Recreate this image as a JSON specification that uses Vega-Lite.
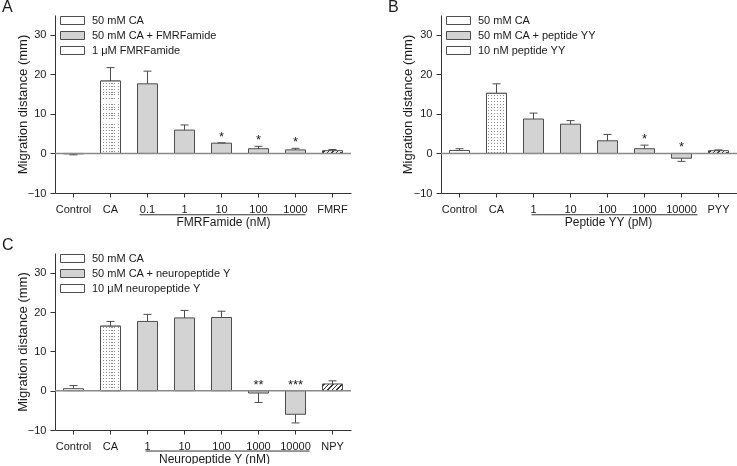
{
"$schema": "https://vega.github.io/schema/vega-lite/v6.json",
"autosize": {"type": "pad"},
"padding": {"left": 2, "top": -2, "right": 0, "bottom": 0},
"background": "white",
"config": {
  "font": "Liberation Sans",
  "view": {"stroke": null},
  "axis": {"grid": false, "domainColor": "#333333", "tickColor": "#333333", "labelColor": "#1a1a1a", "titleColor": "#1a1a1a", "labelFontSize": 11, "titleFontWeight": "normal", "labelFont": "Liberation Sans", "titleFont": "Liberation Sans"},
  "legend": {"labelFont": "Liberation Sans", "labelFontSize": 11, "labelColor": "#1a1a1a"},
  "title": {"font": "Liberation Sans", "fontWeight": "normal", "fontSize": 16, "color": "#1a1a1a", "anchor": "start", "frame": "group", "dx": -53, "offset": 0.5, "baseline": "alphabetic"}
},
"bounds": "flush",
"columns": 2,
"spacing": {"row": 60, "column": 90},
"resolve": {"scale": {"fill": "independent", "x": "independent", "y": "independent"}, "legend": {"fill": "independent"}},
"concat": [
{
 "width": 296, "height": 178,
 "title": {"text": "A"},
 "data": {"values": [
  {"cat":"Control","group":"Control","mean":-0.1,"err":-0.35,"sig":""},
  {"cat":"CA","group":"50 mM CA","mean":18.3,"err":21.7,"sig":""},
  {"cat":"0.1","group":"50 mM CA + FMRFamide","mean":17.6,"err":20.8,"sig":""},
  {"cat":"1","group":"50 mM CA + FMRFamide","mean":5.9,"err":7.2,"sig":""},
  {"cat":"10","group":"50 mM CA + FMRFamide","mean":2.6,"err":2.7,"sig":"*"},
  {"cat":"100","group":"50 mM CA + FMRFamide","mean":1.2,"err":1.8,"sig":"*"},
  {"cat":"1000","group":"50 mM CA + FMRFamide","mean":0.9,"err":1.3,"sig":"*"},
  {"cat":"FMRF","group":"1 μM FMRFamide","mean":0.7,"err":1.0,"sig":""}
 ]},
 "layer": [
  {"mark": {"type": "bar", "width": 20, "stroke": "#4d4d4d", "strokeWidth": 1, "opacity": 1},
   "encoding": {
    "x": {"field": "cat", "type": "nominal", "title": "FMRFamide (nM)", "scale": {"domain": ["Control","CA","0.1","1","10","100","1000","FMRF"], "paddingInner": 0, "paddingOuter": 0}, "axis": {"titleX": 168, "titleY": 32, "titleBaseline": "alphabetic", "titleAlign": "center", "titleFontSize": 12, "labelAngle": 0, "tickSize": 4, "labelPadding": 6}},
    "y": {"field": "mean", "type": "quantitative", "title": "Migration distance (mm)", "scale": {"domain": [-10, 35], "nice": false, "zero": false}, "axis": {"values": [-10,0,10,20,30], "tickSize": 5, "labelPadding": 4, "titlePadding": -2, "titleFontSize": 13}},
    "y2": {"datum": 0},
    "fill": {"field": "group", "type": "nominal",
      "scale": {"domain": ["Control","50 mM CA","50 mM CA + FMRFamide","1 μM FMRFamide"], "range": ["white","white","#d3d3d3","white"]},
      "condition": [
       {"test": "datum.group === '50 mM CA'", "value": {"gradient":"linear","x1":0,"y1":0,"x2":1,"y2":0,"stops":[{"offset":0,"color":"white"},{"offset":0.1,"color":"white"},{"offset":0.1,"color":"#8c8c8c"},{"offset":0.15,"color":"#8c8c8c"},{"offset":0.15,"color":"white"},{"offset":0.25,"color":"white"},{"offset":0.25,"color":"#8c8c8c"},{"offset":0.3,"color":"#8c8c8c"},{"offset":0.3,"color":"white"},{"offset":0.4,"color":"white"},{"offset":0.4,"color":"#8c8c8c"},{"offset":0.45,"color":"#8c8c8c"},{"offset":0.45,"color":"white"},{"offset":0.55,"color":"white"},{"offset":0.55,"color":"#8c8c8c"},{"offset":0.6,"color":"#8c8c8c"},{"offset":0.6,"color":"white"},{"offset":0.7,"color":"white"},{"offset":0.7,"color":"#8c8c8c"},{"offset":0.75,"color":"#8c8c8c"},{"offset":0.75,"color":"white"},{"offset":0.85,"color":"white"},{"offset":0.85,"color":"#8c8c8c"},{"offset":0.9,"color":"#8c8c8c"},{"offset":0.9,"color":"white"},{"offset":1,"color":"white"}]}},
       {"test": "datum.group === '1 μM FMRFamide'", "value": {"gradient":"linear","x1":0,"y1":0,"x2":1.118,"y2":0.157,"stops":[{"offset":0,"color":"white"},{"offset":0.07,"color":"white"},{"offset":0.07,"color":"#333"},{"offset":0.13,"color":"#333"},{"offset":0.13,"color":"white"},{"offset":0.27,"color":"white"},{"offset":0.27,"color":"#333"},{"offset":0.33,"color":"#333"},{"offset":0.33,"color":"white"},{"offset":0.47,"color":"white"},{"offset":0.47,"color":"#333"},{"offset":0.53,"color":"#333"},{"offset":0.53,"color":"white"},{"offset":0.67,"color":"white"},{"offset":0.67,"color":"#333"},{"offset":0.73,"color":"#333"},{"offset":0.73,"color":"white"},{"offset":0.87,"color":"white"},{"offset":0.87,"color":"#333"},{"offset":0.93,"color":"#333"},{"offset":0.93,"color":"white"},{"offset":1,"color":"white"}]}}
      ],
      "legend": {"values": ["50 mM CA","50 mM CA + FMRFamide","1 μM FMRFamide"], "title": null, "orient": "none", "legendX": 12, "legendY": 0, "padding": 0, "symbolSize": 16, "symbolType": "M-6,-2H6V2H-6Z", "symbolStrokeColor": "#4d4d4d", "symbolStrokeWidth": 1, "labelOffset": 14, "rowPadding": 2}
    }
   }},
  {"transform": [{"filter": "datum.group === '50 mM CA'"}],
   "mark": {"type": "bar", "width": 20, "blend": "lighten", "strokeWidth": 0, "opacity": 1,
     "fill": {"gradient":"linear","x1":0,"y1":0,"x2":0,"y2":1,"stops":[{"offset":0,"color":"white"},
{"offset":0.0200,"color":"white"},{"offset":0.0200,"color":"#8c8c8c"},{"offset":0.0338,"color":"#8c8c8c"},{"offset":0.0338,"color":"white"},
{"offset":0.0614,"color":"white"},{"offset":0.0614,"color":"#8c8c8c"},{"offset":0.0752,"color":"#8c8c8c"},{"offset":0.0752,"color":"white"},
{"offset":0.1029,"color":"white"},{"offset":0.1029,"color":"#8c8c8c"},{"offset":0.1167,"color":"#8c8c8c"},{"offset":0.1167,"color":"white"},
{"offset":0.1443,"color":"white"},{"offset":0.1443,"color":"#8c8c8c"},{"offset":0.1581,"color":"#8c8c8c"},{"offset":0.1581,"color":"white"},
{"offset":0.1857,"color":"white"},{"offset":0.1857,"color":"#8c8c8c"},{"offset":0.1995,"color":"#8c8c8c"},{"offset":0.1995,"color":"white"},
{"offset":0.2272,"color":"white"},{"offset":0.2272,"color":"#8c8c8c"},{"offset":0.2410,"color":"#8c8c8c"},{"offset":0.2410,"color":"white"},
{"offset":0.2686,"color":"white"},{"offset":0.2686,"color":"#8c8c8c"},{"offset":0.2824,"color":"#8c8c8c"},{"offset":0.2824,"color":"white"},
{"offset":0.3101,"color":"white"},{"offset":0.3101,"color":"#8c8c8c"},{"offset":0.3239,"color":"#8c8c8c"},{"offset":0.3239,"color":"white"},
{"offset":0.3515,"color":"white"},{"offset":0.3515,"color":"#8c8c8c"},{"offset":0.3653,"color":"#8c8c8c"},{"offset":0.3653,"color":"white"},
{"offset":0.3929,"color":"white"},{"offset":0.3929,"color":"#8c8c8c"},{"offset":0.4067,"color":"#8c8c8c"},{"offset":0.4067,"color":"white"},
{"offset":0.4344,"color":"white"},{"offset":0.4344,"color":"#8c8c8c"},{"offset":0.4482,"color":"#8c8c8c"},{"offset":0.4482,"color":"white"},
{"offset":0.4758,"color":"white"},{"offset":0.4758,"color":"#8c8c8c"},{"offset":0.4896,"color":"#8c8c8c"},{"offset":0.4896,"color":"white"},
{"offset":0.5172,"color":"white"},{"offset":0.5172,"color":"#8c8c8c"},{"offset":0.5310,"color":"#8c8c8c"},{"offset":0.5310,"color":"white"},
{"offset":0.5587,"color":"white"},{"offset":0.5587,"color":"#8c8c8c"},{"offset":0.5725,"color":"#8c8c8c"},{"offset":0.5725,"color":"white"},
{"offset":0.6001,"color":"white"},{"offset":0.6001,"color":"#8c8c8c"},{"offset":0.6139,"color":"#8c8c8c"},{"offset":0.6139,"color":"white"},
{"offset":0.6415,"color":"white"},{"offset":0.6415,"color":"#8c8c8c"},{"offset":0.6553,"color":"#8c8c8c"},{"offset":0.6553,"color":"white"},
{"offset":0.6830,"color":"white"},{"offset":0.6830,"color":"#8c8c8c"},{"offset":0.6968,"color":"#8c8c8c"},{"offset":0.6968,"color":"white"},
{"offset":0.7244,"color":"white"},{"offset":0.7244,"color":"#8c8c8c"},{"offset":0.7382,"color":"#8c8c8c"},{"offset":0.7382,"color":"white"},
{"offset":0.7658,"color":"white"},{"offset":0.7658,"color":"#8c8c8c"},{"offset":0.7796,"color":"#8c8c8c"},{"offset":0.7796,"color":"white"},
{"offset":0.8073,"color":"white"},{"offset":0.8073,"color":"#8c8c8c"},{"offset":0.8211,"color":"#8c8c8c"},{"offset":0.8211,"color":"white"},
{"offset":0.8487,"color":"white"},{"offset":0.8487,"color":"#8c8c8c"},{"offset":0.8625,"color":"#8c8c8c"},{"offset":0.8625,"color":"white"},
{"offset":0.8901,"color":"white"},{"offset":0.8901,"color":"#8c8c8c"},{"offset":0.9039,"color":"#8c8c8c"},{"offset":0.9039,"color":"white"},
{"offset":0.9316,"color":"white"},{"offset":0.9316,"color":"#8c8c8c"},{"offset":0.9454,"color":"#8c8c8c"},{"offset":0.9454,"color":"white"},
{"offset":0.9730,"color":"white"},{"offset":0.9730,"color":"#8c8c8c"},{"offset":0.9868,"color":"#8c8c8c"},{"offset":0.9868,"color":"white"},
{"offset":1,"color":"white"}]}},
   "encoding": {
    "x": {"field": "cat", "type": "nominal", "title": "FMRFamide (nM)"},
    "y": {"field": "mean", "type": "quantitative", "title": "Migration distance (mm)"},
    "y2": {"datum": 0}
   }},
  {"transform": [{"filter": "datum.group === '50 mM CA'"}],
   "mark": {"type": "bar", "width": 20, "fillOpacity": 0, "stroke": "#4d4d4d", "strokeWidth": 1},
   "encoding": {
    "x": {"field": "cat", "type": "nominal", "title": "FMRFamide (nM)"},
    "y": {"field": "mean", "type": "quantitative", "title": "Migration distance (mm)"},
    "y2": {"datum": 0}
   }},
  {"mark": {"type": "rule", "color": "#4d4d4d", "strokeWidth": 1},
   "encoding": {
    "x": {"field": "cat", "type": "nominal", "title": "FMRFamide (nM)"},
    "y": {"field": "mean", "type": "quantitative", "title": "Migration distance (mm)"},
    "y2": {"field": "err"}
   }},
  {"mark": {"type": "tick", "color": "#4d4d4d", "size": 8, "thickness": 1, "opacity": 1},
   "encoding": {
    "x": {"field": "cat", "type": "nominal", "title": "FMRFamide (nM)"},
    "y": {"field": "err", "type": "quantitative", "title": "Migration distance (mm)"}
   }},
  {"data": {"values": [{}]},
   "mark": {"type": "rule", "color": "#8a8a8a", "strokeWidth": 1.5},
   "encoding": {"y": {"datum": 0}}},
  {"data": {"values": [{}]},
   "mark": {"type": "rule", "color": "#333333", "strokeWidth": 1, "xOffset": -8, "x2Offset": 10, "clip": false},
   "encoding": {
    "x": {"datum": "0.1", "type": "nominal", "title": "FMRFamide (nM)"},
    "x2": {"datum": "1000"},
    "y": {"datum": -15.5}
   }},
  {"transform": [{"filter": "datum.sig !== ''"}, {"calculate": "max(datum.err, datum.mean, 0)", "as": "starY"}],
   "mark": {"type": "text", "fontSize": 13, "baseline": "alphabetic", "dy": -2, "color": "#1a1a1a"},
   "encoding": {
    "x": {"field": "cat", "type": "nominal", "title": "FMRFamide (nM)"},
    "y": {"field": "starY", "type": "quantitative", "title": "Migration distance (mm)"},
    "text": {"field": "sig"}
   }}
 ]
},
{
 "width": 296, "height": 178,
 "title": {"text": "B"},
 "data": {"values": [
  {"cat":"Control","group":"Control","mean":0.75,"err":1.2,"sig":""},
  {"cat":"CA","group":"50 mM CA","mean":15.2,"err":17.6,"sig":""},
  {"cat":"1","group":"50 mM CA + peptide YY","mean":8.7,"err":10.2,"sig":""},
  {"cat":"10","group":"50 mM CA + peptide YY","mean":7.4,"err":8.3,"sig":""},
  {"cat":"100","group":"50 mM CA + peptide YY","mean":3.2,"err":4.8,"sig":""},
  {"cat":"1000","group":"50 mM CA + peptide YY","mean":1.2,"err":2.1,"sig":"*"},
  {"cat":"10000","group":"50 mM CA + peptide YY","mean":-1.2,"err":-2.0,"sig":"*"},
  {"cat":"PYY","group":"10 nM peptide YY","mean":0.7,"err":0.9,"sig":""}
 ]},
 "layer": [
  {"mark": {"type": "bar", "width": 20, "stroke": "#4d4d4d", "strokeWidth": 1, "opacity": 1},
   "encoding": {
    "x": {"field": "cat", "type": "nominal", "title": "Peptide YY (pM)", "scale": {"domain": ["Control","CA","1","10","100","1000","10000","PYY"], "paddingInner": 0, "paddingOuter": 0}, "axis": {"titleX": 167, "titleY": 32, "titleBaseline": "alphabetic", "titleAlign": "center", "titleFontSize": 12, "labelAngle": 0, "tickSize": 4, "labelPadding": 6}},
    "y": {"field": "mean", "type": "quantitative", "title": "Migration distance (mm)", "scale": {"domain": [-10, 35], "nice": false, "zero": false}, "axis": {"values": [-10,0,10,20,30], "tickSize": 5, "labelPadding": 4, "titlePadding": -1, "titleFontSize": 13}},
    "y2": {"datum": 0},
    "fill": {"field": "group", "type": "nominal",
      "scale": {"domain": ["Control","50 mM CA","50 mM CA + peptide YY","10 nM peptide YY"], "range": ["white","white","#d3d3d3","white"]},
      "condition": [
       {"test": "datum.group === '50 mM CA'", "value": {"gradient":"linear","x1":0,"y1":0,"x2":1,"y2":0,"stops":[{"offset":0,"color":"white"},{"offset":0.1,"color":"white"},{"offset":0.1,"color":"#8c8c8c"},{"offset":0.15,"color":"#8c8c8c"},{"offset":0.15,"color":"white"},{"offset":0.25,"color":"white"},{"offset":0.25,"color":"#8c8c8c"},{"offset":0.3,"color":"#8c8c8c"},{"offset":0.3,"color":"white"},{"offset":0.4,"color":"white"},{"offset":0.4,"color":"#8c8c8c"},{"offset":0.45,"color":"#8c8c8c"},{"offset":0.45,"color":"white"},{"offset":0.55,"color":"white"},{"offset":0.55,"color":"#8c8c8c"},{"offset":0.6,"color":"#8c8c8c"},{"offset":0.6,"color":"white"},{"offset":0.7,"color":"white"},{"offset":0.7,"color":"#8c8c8c"},{"offset":0.75,"color":"#8c8c8c"},{"offset":0.75,"color":"white"},{"offset":0.85,"color":"white"},{"offset":0.85,"color":"#8c8c8c"},{"offset":0.9,"color":"#8c8c8c"},{"offset":0.9,"color":"white"},{"offset":1,"color":"white"}]}},
       {"test": "datum.group === '10 nM peptide YY'", "value": {"gradient":"linear","x1":0,"y1":0,"x2":1.118,"y2":0.157,"stops":[{"offset":0,"color":"white"},{"offset":0.07,"color":"white"},{"offset":0.07,"color":"#333"},{"offset":0.13,"color":"#333"},{"offset":0.13,"color":"white"},{"offset":0.27,"color":"white"},{"offset":0.27,"color":"#333"},{"offset":0.33,"color":"#333"},{"offset":0.33,"color":"white"},{"offset":0.47,"color":"white"},{"offset":0.47,"color":"#333"},{"offset":0.53,"color":"#333"},{"offset":0.53,"color":"white"},{"offset":0.67,"color":"white"},{"offset":0.67,"color":"#333"},{"offset":0.73,"color":"#333"},{"offset":0.73,"color":"white"},{"offset":0.87,"color":"white"},{"offset":0.87,"color":"#333"},{"offset":0.93,"color":"#333"},{"offset":0.93,"color":"white"},{"offset":1,"color":"white"}]}}
      ],
      "legend": {"values": ["50 mM CA","50 mM CA + peptide YY","10 nM peptide YY"], "title": null, "orient": "none", "legendX": 12, "legendY": 0, "padding": 0, "symbolSize": 16, "symbolType": "M-6,-2H6V2H-6Z", "symbolStrokeColor": "#4d4d4d", "symbolStrokeWidth": 1, "labelOffset": 14, "rowPadding": 2}
    }
   }},
  {"transform": [{"filter": "datum.group === '50 mM CA'"}],
   "mark": {"type": "bar", "width": 20, "blend": "lighten", "strokeWidth": 0, "opacity": 1,
     "fill": {"gradient":"linear","x1":0,"y1":0,"x2":0,"y2":1,"stops":[{"offset":0,"color":"white"},
{"offset":0.0200,"color":"white"},{"offset":0.0200,"color":"#8c8c8c"},{"offset":0.0366,"color":"#8c8c8c"},{"offset":0.0366,"color":"white"},
{"offset":0.0699,"color":"white"},{"offset":0.0699,"color":"#8c8c8c"},{"offset":0.0865,"color":"#8c8c8c"},{"offset":0.0865,"color":"white"},
{"offset":0.1198,"color":"white"},{"offset":0.1198,"color":"#8c8c8c"},{"offset":0.1364,"color":"#8c8c8c"},{"offset":0.1364,"color":"white"},
{"offset":0.1697,"color":"white"},{"offset":0.1697,"color":"#8c8c8c"},{"offset":0.1863,"color":"#8c8c8c"},{"offset":0.1863,"color":"white"},
{"offset":0.2196,"color":"white"},{"offset":0.2196,"color":"#8c8c8c"},{"offset":0.2362,"color":"#8c8c8c"},{"offset":0.2362,"color":"white"},
{"offset":0.2695,"color":"white"},{"offset":0.2695,"color":"#8c8c8c"},{"offset":0.2861,"color":"#8c8c8c"},{"offset":0.2861,"color":"white"},
{"offset":0.3194,"color":"white"},{"offset":0.3194,"color":"#8c8c8c"},{"offset":0.3360,"color":"#8c8c8c"},{"offset":0.3360,"color":"white"},
{"offset":0.3693,"color":"white"},{"offset":0.3693,"color":"#8c8c8c"},{"offset":0.3859,"color":"#8c8c8c"},{"offset":0.3859,"color":"white"},
{"offset":0.4192,"color":"white"},{"offset":0.4192,"color":"#8c8c8c"},{"offset":0.4358,"color":"#8c8c8c"},{"offset":0.4358,"color":"white"},
{"offset":0.4691,"color":"white"},{"offset":0.4691,"color":"#8c8c8c"},{"offset":0.4857,"color":"#8c8c8c"},{"offset":0.4857,"color":"white"},
{"offset":0.5190,"color":"white"},{"offset":0.5190,"color":"#8c8c8c"},{"offset":0.5356,"color":"#8c8c8c"},{"offset":0.5356,"color":"white"},
{"offset":0.5689,"color":"white"},{"offset":0.5689,"color":"#8c8c8c"},{"offset":0.5855,"color":"#8c8c8c"},{"offset":0.5855,"color":"white"},
{"offset":0.6188,"color":"white"},{"offset":0.6188,"color":"#8c8c8c"},{"offset":0.6354,"color":"#8c8c8c"},{"offset":0.6354,"color":"white"},
{"offset":0.6687,"color":"white"},{"offset":0.6687,"color":"#8c8c8c"},{"offset":0.6853,"color":"#8c8c8c"},{"offset":0.6853,"color":"white"},
{"offset":0.7186,"color":"white"},{"offset":0.7186,"color":"#8c8c8c"},{"offset":0.7352,"color":"#8c8c8c"},{"offset":0.7352,"color":"white"},
{"offset":0.7685,"color":"white"},{"offset":0.7685,"color":"#8c8c8c"},{"offset":0.7851,"color":"#8c8c8c"},{"offset":0.7851,"color":"white"},
{"offset":0.8184,"color":"white"},{"offset":0.8184,"color":"#8c8c8c"},{"offset":0.8350,"color":"#8c8c8c"},{"offset":0.8350,"color":"white"},
{"offset":0.8683,"color":"white"},{"offset":0.8683,"color":"#8c8c8c"},{"offset":0.8849,"color":"#8c8c8c"},{"offset":0.8849,"color":"white"},
{"offset":0.9182,"color":"white"},{"offset":0.9182,"color":"#8c8c8c"},{"offset":0.9348,"color":"#8c8c8c"},{"offset":0.9348,"color":"white"},
{"offset":0.9681,"color":"white"},{"offset":0.9681,"color":"#8c8c8c"},{"offset":0.9847,"color":"#8c8c8c"},{"offset":0.9847,"color":"white"},
{"offset":1,"color":"white"}]}},
   "encoding": {
    "x": {"field": "cat", "type": "nominal", "title": "Peptide YY (pM)"},
    "y": {"field": "mean", "type": "quantitative", "title": "Migration distance (mm)"},
    "y2": {"datum": 0}
   }},
  {"transform": [{"filter": "datum.group === '50 mM CA'"}],
   "mark": {"type": "bar", "width": 20, "fillOpacity": 0, "stroke": "#4d4d4d", "strokeWidth": 1},
   "encoding": {
    "x": {"field": "cat", "type": "nominal", "title": "Peptide YY (pM)"},
    "y": {"field": "mean", "type": "quantitative", "title": "Migration distance (mm)"},
    "y2": {"datum": 0}
   }},
  {"mark": {"type": "rule", "color": "#4d4d4d", "strokeWidth": 1},
   "encoding": {
    "x": {"field": "cat", "type": "nominal", "title": "Peptide YY (pM)"},
    "y": {"field": "mean", "type": "quantitative", "title": "Migration distance (mm)"},
    "y2": {"field": "err"}
   }},
  {"mark": {"type": "tick", "color": "#4d4d4d", "size": 8, "thickness": 1, "opacity": 1},
   "encoding": {
    "x": {"field": "cat", "type": "nominal", "title": "Peptide YY (pM)"},
    "y": {"field": "err", "type": "quantitative", "title": "Migration distance (mm)"}
   }},
  {"data": {"values": [{}]},
   "mark": {"type": "rule", "color": "#8a8a8a", "strokeWidth": 1.5},
   "encoding": {"y": {"datum": 0}}},
  {"data": {"values": [{}]},
   "mark": {"type": "rule", "color": "#333333", "strokeWidth": 1, "xOffset": -2, "x2Offset": 16, "clip": false},
   "encoding": {
    "x": {"datum": "1", "type": "nominal", "title": "Peptide YY (pM)"},
    "x2": {"datum": "10000"},
    "y": {"datum": -15.5}
   }},
  {"transform": [{"filter": "datum.sig !== ''"}, {"calculate": "max(datum.err, datum.mean, 0)", "as": "starY"}],
   "mark": {"type": "text", "fontSize": 13, "baseline": "alphabetic", "dy": -2, "color": "#1a1a1a"},
   "encoding": {
    "x": {"field": "cat", "type": "nominal", "title": "Peptide YY (pM)"},
    "y": {"field": "starY", "type": "quantitative", "title": "Migration distance (mm)"},
    "text": {"field": "sig"}
   }}
 ]
},
{
 "width": 296, "height": 177,
 "title": {"text": "C"},
 "data": {"values": [
  {"cat":"Control","group":"Control","mean":0.5,"err":1.3,"sig":""},
  {"cat":"CA","group":"50 mM CA","mean":16.4,"err":17.6,"sig":""},
  {"cat":"1","group":"50 mM CA + neuropeptide Y","mean":17.6,"err":19.4,"sig":""},
  {"cat":"10","group":"50 mM CA + neuropeptide Y","mean":18.5,"err":20.4,"sig":""},
  {"cat":"100","group":"50 mM CA + neuropeptide Y","mean":18.6,"err":20.2,"sig":""},
  {"cat":"1000","group":"50 mM CA + neuropeptide Y","mean":-0.6,"err":-3.0,"sig":"**"},
  {"cat":"10000","group":"50 mM CA + neuropeptide Y","mean":-6.0,"err":-8.2,"sig":"***"},
  {"cat":"NPY","group":"10 μM neuropeptide Y","mean":1.7,"err":2.5,"sig":""}
 ]},
 "layer": [
  {"mark": {"type": "bar", "width": 20, "stroke": "#4d4d4d", "strokeWidth": 1, "opacity": 1},
   "encoding": {
    "x": {"field": "cat", "type": "nominal", "title": "Neuropeptide Y (nM)", "scale": {"domain": ["Control","CA","1","10","100","1000","10000","NPY"], "paddingInner": 0, "paddingOuter": 0}, "axis": {"titleX": 159, "titleY": 32, "titleBaseline": "alphabetic", "titleAlign": "center", "titleFontSize": 12, "labelAngle": 0, "tickSize": 4, "labelPadding": 6}},
    "y": {"field": "mean", "type": "quantitative", "title": "Migration distance (mm)", "scale": {"domain": [-10, 35], "nice": false, "zero": false}, "axis": {"values": [-10,0,10,20,30], "tickSize": 5, "labelPadding": 4, "titlePadding": -2, "titleFontSize": 13}},
    "y2": {"datum": 0},
    "fill": {"field": "group", "type": "nominal",
      "scale": {"domain": ["Control","50 mM CA","50 mM CA + neuropeptide Y","10 μM neuropeptide Y"], "range": ["white","white","#d3d3d3","white"]},
      "condition": [
       {"test": "datum.group === '50 mM CA'", "value": {"gradient":"linear","x1":0,"y1":0,"x2":1,"y2":0,"stops":[{"offset":0,"color":"white"},{"offset":0.1,"color":"white"},{"offset":0.1,"color":"#8c8c8c"},{"offset":0.15,"color":"#8c8c8c"},{"offset":0.15,"color":"white"},{"offset":0.25,"color":"white"},{"offset":0.25,"color":"#8c8c8c"},{"offset":0.3,"color":"#8c8c8c"},{"offset":0.3,"color":"white"},{"offset":0.4,"color":"white"},{"offset":0.4,"color":"#8c8c8c"},{"offset":0.45,"color":"#8c8c8c"},{"offset":0.45,"color":"white"},{"offset":0.55,"color":"white"},{"offset":0.55,"color":"#8c8c8c"},{"offset":0.6,"color":"#8c8c8c"},{"offset":0.6,"color":"white"},{"offset":0.7,"color":"white"},{"offset":0.7,"color":"#8c8c8c"},{"offset":0.75,"color":"#8c8c8c"},{"offset":0.75,"color":"white"},{"offset":0.85,"color":"white"},{"offset":0.85,"color":"#8c8c8c"},{"offset":0.9,"color":"#8c8c8c"},{"offset":0.9,"color":"white"},{"offset":1,"color":"white"}]}},
       {"test": "datum.group === '10 μM neuropeptide Y'", "value": {"gradient":"linear","x1":0,"y1":0,"x2":1.2,"y2":0.4,"stops":[{"offset":0,"color":"white"},{"offset":0.053,"color":"white"},{"offset":0.053,"color":"#333"},{"offset":0.113,"color":"#333"},{"offset":0.113,"color":"white"},{"offset":0.22,"color":"white"},{"offset":0.22,"color":"#333"},{"offset":0.28,"color":"#333"},{"offset":0.28,"color":"white"},{"offset":0.387,"color":"white"},{"offset":0.387,"color":"#333"},{"offset":0.447,"color":"#333"},{"offset":0.447,"color":"white"},{"offset":0.553,"color":"white"},{"offset":0.553,"color":"#333"},{"offset":0.613,"color":"#333"},{"offset":0.613,"color":"white"},{"offset":0.72,"color":"white"},{"offset":0.72,"color":"#333"},{"offset":0.78,"color":"#333"},{"offset":0.78,"color":"white"},{"offset":0.887,"color":"white"},{"offset":0.887,"color":"#333"},{"offset":0.947,"color":"#333"},{"offset":0.947,"color":"white"},{"offset":1,"color":"white"}]}}
      ],
      "legend": {"values": ["50 mM CA","50 mM CA + neuropeptide Y","10 μM neuropeptide Y"], "title": null, "orient": "none", "legendX": 12, "legendY": 0, "padding": 0, "symbolSize": 16, "symbolType": "M-6,-2H6V2H-6Z", "symbolStrokeColor": "#4d4d4d", "symbolStrokeWidth": 1, "labelOffset": 14, "rowPadding": 2}
    }
   }},
  {"transform": [{"filter": "datum.group === '50 mM CA'"}],
   "mark": {"type": "bar", "width": 20, "blend": "lighten", "strokeWidth": 0, "opacity": 1,
     "fill": {"gradient":"linear","x1":0,"y1":0,"x2":0,"y2":1,"stops":[{"offset":0,"color":"white"},
{"offset":0.0200,"color":"white"},{"offset":0.0200,"color":"#8c8c8c"},{"offset":0.0355,"color":"#8c8c8c"},{"offset":0.0355,"color":"white"},
{"offset":0.0665,"color":"white"},{"offset":0.0665,"color":"#8c8c8c"},{"offset":0.0820,"color":"#8c8c8c"},{"offset":0.0820,"color":"white"},
{"offset":0.1130,"color":"white"},{"offset":0.1130,"color":"#8c8c8c"},{"offset":0.1285,"color":"#8c8c8c"},{"offset":0.1285,"color":"white"},
{"offset":0.1595,"color":"white"},{"offset":0.1595,"color":"#8c8c8c"},{"offset":0.1750,"color":"#8c8c8c"},{"offset":0.1750,"color":"white"},
{"offset":0.2060,"color":"white"},{"offset":0.2060,"color":"#8c8c8c"},{"offset":0.2215,"color":"#8c8c8c"},{"offset":0.2215,"color":"white"},
{"offset":0.2526,"color":"white"},{"offset":0.2526,"color":"#8c8c8c"},{"offset":0.2681,"color":"#8c8c8c"},{"offset":0.2681,"color":"white"},
{"offset":0.2991,"color":"white"},{"offset":0.2991,"color":"#8c8c8c"},{"offset":0.3146,"color":"#8c8c8c"},{"offset":0.3146,"color":"white"},
{"offset":0.3456,"color":"white"},{"offset":0.3456,"color":"#8c8c8c"},{"offset":0.3611,"color":"#8c8c8c"},{"offset":0.3611,"color":"white"},
{"offset":0.3921,"color":"white"},{"offset":0.3921,"color":"#8c8c8c"},{"offset":0.4076,"color":"#8c8c8c"},{"offset":0.4076,"color":"white"},
{"offset":0.4386,"color":"white"},{"offset":0.4386,"color":"#8c8c8c"},{"offset":0.4541,"color":"#8c8c8c"},{"offset":0.4541,"color":"white"},
{"offset":0.4851,"color":"white"},{"offset":0.4851,"color":"#8c8c8c"},{"offset":0.5006,"color":"#8c8c8c"},{"offset":0.5006,"color":"white"},
{"offset":0.5316,"color":"white"},{"offset":0.5316,"color":"#8c8c8c"},{"offset":0.5471,"color":"#8c8c8c"},{"offset":0.5471,"color":"white"},
{"offset":0.5781,"color":"white"},{"offset":0.5781,"color":"#8c8c8c"},{"offset":0.5936,"color":"#8c8c8c"},{"offset":0.5936,"color":"white"},
{"offset":0.6246,"color":"white"},{"offset":0.6246,"color":"#8c8c8c"},{"offset":0.6401,"color":"#8c8c8c"},{"offset":0.6401,"color":"white"},
{"offset":0.6711,"color":"white"},{"offset":0.6711,"color":"#8c8c8c"},{"offset":0.6866,"color":"#8c8c8c"},{"offset":0.6866,"color":"white"},
{"offset":0.7177,"color":"white"},{"offset":0.7177,"color":"#8c8c8c"},{"offset":0.7332,"color":"#8c8c8c"},{"offset":0.7332,"color":"white"},
{"offset":0.7642,"color":"white"},{"offset":0.7642,"color":"#8c8c8c"},{"offset":0.7797,"color":"#8c8c8c"},{"offset":0.7797,"color":"white"},
{"offset":0.8107,"color":"white"},{"offset":0.8107,"color":"#8c8c8c"},{"offset":0.8262,"color":"#8c8c8c"},{"offset":0.8262,"color":"white"},
{"offset":0.8572,"color":"white"},{"offset":0.8572,"color":"#8c8c8c"},{"offset":0.8727,"color":"#8c8c8c"},{"offset":0.8727,"color":"white"},
{"offset":0.9037,"color":"white"},{"offset":0.9037,"color":"#8c8c8c"},{"offset":0.9192,"color":"#8c8c8c"},{"offset":0.9192,"color":"white"},
{"offset":0.9502,"color":"white"},{"offset":0.9502,"color":"#8c8c8c"},{"offset":0.9657,"color":"#8c8c8c"},{"offset":0.9657,"color":"white"},
{"offset":1,"color":"white"}]}},
   "encoding": {
    "x": {"field": "cat", "type": "nominal", "title": "Neuropeptide Y (nM)"},
    "y": {"field": "mean", "type": "quantitative", "title": "Migration distance (mm)"},
    "y2": {"datum": 0}
   }},
  {"transform": [{"filter": "datum.group === '50 mM CA'"}],
   "mark": {"type": "bar", "width": 20, "fillOpacity": 0, "stroke": "#4d4d4d", "strokeWidth": 1},
   "encoding": {
    "x": {"field": "cat", "type": "nominal", "title": "Neuropeptide Y (nM)"},
    "y": {"field": "mean", "type": "quantitative", "title": "Migration distance (mm)"},
    "y2": {"datum": 0}
   }},
  {"mark": {"type": "rule", "color": "#4d4d4d", "strokeWidth": 1},
   "encoding": {
    "x": {"field": "cat", "type": "nominal", "title": "Neuropeptide Y (nM)"},
    "y": {"field": "mean", "type": "quantitative", "title": "Migration distance (mm)"},
    "y2": {"field": "err"}
   }},
  {"mark": {"type": "tick", "color": "#4d4d4d", "size": 8, "thickness": 1, "opacity": 1},
   "encoding": {
    "x": {"field": "cat", "type": "nominal", "title": "Neuropeptide Y (nM)"},
    "y": {"field": "err", "type": "quantitative", "title": "Migration distance (mm)"}
   }},
  {"data": {"values": [{}]},
   "mark": {"type": "rule", "color": "#8a8a8a", "strokeWidth": 1.5},
   "encoding": {"y": {"datum": 0}}},
  {"data": {"values": [{}]},
   "mark": {"type": "rule", "color": "#333333", "strokeWidth": 1, "xOffset": -2, "x2Offset": 14, "clip": false},
   "encoding": {
    "x": {"datum": "1", "type": "nominal", "title": "Neuropeptide Y (nM)"},
    "x2": {"datum": "10000"},
    "y": {"datum": -15.35}
   }},
  {"transform": [{"filter": "datum.sig !== ''"}, {"calculate": "max(datum.err, datum.mean, 0)", "as": "starY"}],
   "mark": {"type": "text", "fontSize": 13, "baseline": "alphabetic", "dy": -2, "color": "#1a1a1a"},
   "encoding": {
    "x": {"field": "cat", "type": "nominal", "title": "Neuropeptide Y (nM)"},
    "y": {"field": "starY", "type": "quantitative", "title": "Migration distance (mm)"},
    "text": {"field": "sig"}
   }}
 ]
}
]
}
